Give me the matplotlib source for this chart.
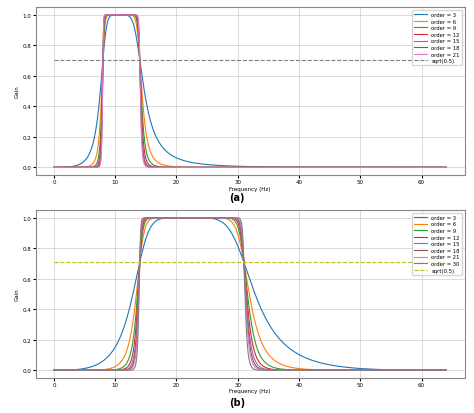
import numpy as np
import matplotlib.pyplot as plt

fs = 128.0
freqs = np.linspace(0, 64, 2000)

orders_a = [3, 6, 9, 12, 15, 18, 21]
band_a = (8.0, 14.0)
orders_b = [3, 6, 9, 12, 15, 18, 21, 30]
band_b = (14.0, 31.0)


def bp_gain(f, lo, hi, n):
    # digital Butterworth bandpass magnitude (bilinear transform)
    w = np.tan(np.pi * f / fs)
    w1, w2 = np.tan(np.pi * lo / fs), np.tan(np.pi * hi / fs)
    w0sq, bw = w1 * w2, w2 - w1
    with np.errstate(divide='ignore'):
        x = np.abs((w ** 2 - w0sq) / (w * bw))
    return 1.0 / np.sqrt(1.0 + x ** (2 * n))


fig = plt.figure(figsize=(4.74, 4.14), dpi=100)
ax1 = fig.add_axes([0.075, 0.575, 0.905, 0.405])
ax2 = fig.add_axes([0.075, 0.085, 0.905, 0.405])

for ax, orders, band, cap, ytxt in [(ax1, orders_a, band_a, '(a)', 0.51),
                                   (ax2, orders_b, band_b, '(b)', 0.015)]:
    for n in orders:
        ax.plot(freqs, bp_gain(freqs, band[0], band[1], n), lw=0.8, label=f'order = {n}')
    ax.plot([0, 64], [np.sqrt(0.5)] * 2, '--', lw=0.8, label='sqrt(0.5)')
    ax.set_xlabel('Frequency (Hz)', fontsize=4, labelpad=1)
    ax.set_ylabel('Gain', fontsize=4, labelpad=2)
    ax.tick_params(labelsize=4, length=2, pad=1)
    ax.grid(True, lw=0.5, color='#cccccc')
    ax.set_xlim(-3, 67)
    ax.set_ylim(-0.05, 1.05)
    ax.legend(fontsize=3.8, loc='upper right', handlelength=2.5, labelspacing=0.3, framealpha=0.8)
    for s in ax.spines.values():
        s.set_color('#888888')
    fig.text(0.5, ytxt, cap, ha='center', va='bottom', fontsize=7, fontweight='bold')

fig.savefig('out.png', dpi=100)
